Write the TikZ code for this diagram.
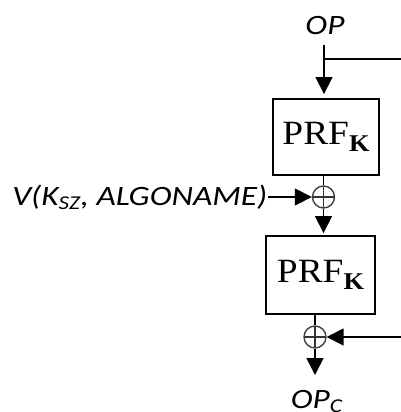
\documentclass[tikz,border=0pt]{standalone}
\usepackage{fontspec}
\usepackage{graphicx}
\setmainfont{Liberation Serif}
\newfontfamily\lblfont{Carlito}
\usetikzlibrary{arrows.meta}
\newcommand{\prfk}{\scalebox{1.1}[1]{PRF\raisebox{-7pt}{\fontsize{24}{24}\selectfont\textbf{K}}}}
\newcommand{\wide}[1]{\scalebox{1.19}[1]{#1}}
\begin{document}
\begin{tikzpicture}[x=1pt,y=-1pt,
  line width=1.7pt,
  arr/.style={-{Triangle[length=17pt,width=17pt]}},
  box/.style={draw,line width=1.9pt,inner sep=0pt,font=\fontsize{34}{36}\selectfont},
  xorn/.style={circle,draw=black!75,line width=1.4pt,minimum size=22pt,inner sep=0pt,
    path picture={\draw[line width=1.4pt,black!80] (path picture bounding box.north) -- (path picture bounding box.south)
      (path picture bounding box.west) -- (path picture bounding box.east);}},
  lbl/.style={font=\lblfont\itshape\fontsize{28}{30}\selectfont,inner sep=0pt}]
\useasboundingbox (0,0) rectangle (401,412);
\node[lbl,anchor=base] (op) at (325,35) {\wide{OP}};
\coordinate (top) at (324,45);
\coordinate (br) at (324,59);
\coordinate (r1) at (401,59);
\node[box,minimum width=106pt,minimum height=76pt] (b1) at (326,137) {\prfk};
\node[xorn] (x1) at (323.5,197) {};
\node[lbl,anchor=base east] (v) at (268,205) {\wide{V(K\textsubscript{SZ}, ALGONAME)}};
\coordinate (vend) at (268,197);
\node[box,minimum width=109pt,minimum height=78pt] (b2) at (320.5,275) {\prfk};
\node[xorn] (x2) at (315,337) {};
\coordinate (r2) at (401,337);
\coordinate (end) at (315,375);
\node[lbl,anchor=base west] (opc) at (290,408) {\wide{OP\textsubscript{C}}};
\draw (top) -- (br) -- (r1);
\draw[arr,shorten >=4pt] (br) -- (b1.north -| br);
\draw (b1.south -| x1) -- (x1.north);
\draw[arr] (vend) -- (x1.west);
\draw[arr,shorten >=2pt] (x1.south) -- (b2.north -| x1);
\draw (b2.south -| x2) -- (x2.north);
\draw[arr] (r2) -- (x2.east);
\draw[arr] (x2.south) -- (end);
\end{tikzpicture}
\end{document}
